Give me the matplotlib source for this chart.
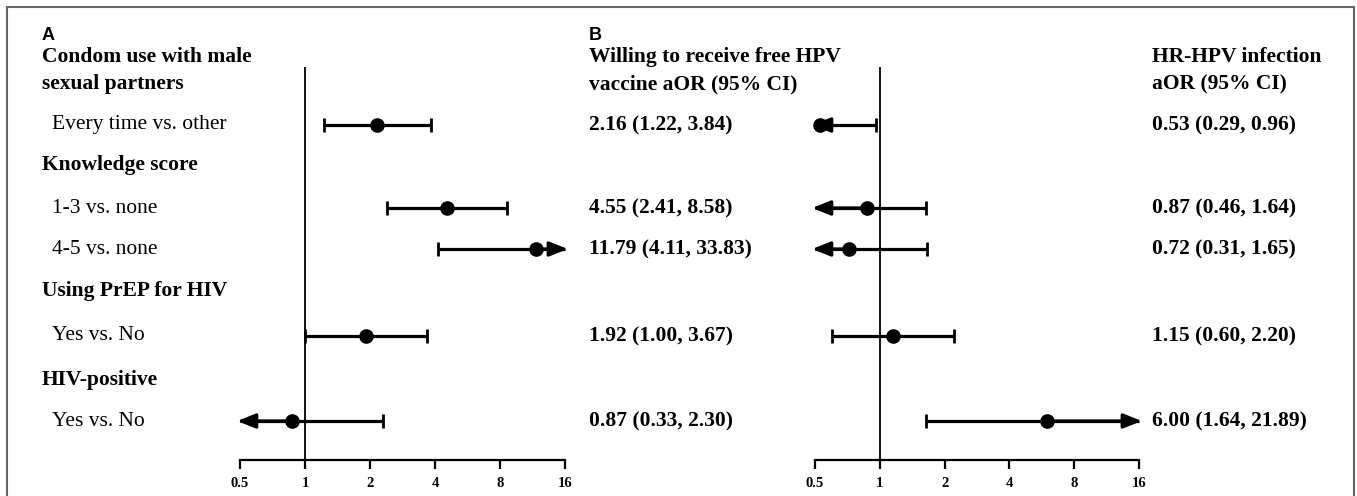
import matplotlib
matplotlib.use("Agg")
import matplotlib.pyplot as plt
from matplotlib.patches import Rectangle

# data
groups = ["Condom use with male\nsexual partners", "Knowledge score", "Using PrEP for HIV", "HIV-positive"]
labels = ["Every time vs. other", "1-3 vs. none", "4-5 vs. none", "Yes vs. No", "Yes vs. No"]

vacc_or = [2.16, 4.55, 11.79, 1.92, 0.87]
vacc_lo = [1.22, 2.41, 4.11, 1.00, 0.33]
vacc_hi = [3.84, 8.58, 33.83, 3.67, 2.30]

hpv_or = [0.53, 0.87, 0.72, 1.15, 6.00]
hpv_lo = [0.29, 0.46, 0.31, 0.60, 1.64]
hpv_hi = [0.96, 1.64, 1.65, 2.20, 21.89]

ticks = [0.5, 1, 2, 4, 8, 16]
tick_labels = ["0.5", "1", "2", "4", "8", "16"]

# layout, in pixels of the 1357x496 picture
W, H = 1357, 496
row_y = [125, 208, 249, 336, 421]
group_y = [(57, 84), 165, 291, 380]
AX_TOP, AX_BOT = 67, 460
COL1, COL2, COL3 = 42, 589, 1152

plt.rcParams['font.family'] = ['Liberation Serif', 'DejaVu Serif']
FS = 15.5

fig = plt.figure(figsize=(W / 100, H / 100), dpi=100)


def fx(x):
    return x / W


def fy(y):
    return 1 - y / H


def forest(ax, est, lo, hi):
    xmin, xmax = ticks[0], ticks[-1]
    ax.set_xscale('log', base=2)
    ax.set_xlim(xmin, xmax)
    ax.set_ylim(AX_BOT, AX_TOP)
    for s in ['top', 'right', 'left']:
        ax.spines[s].set_visible(False)
    ax.spines['bottom'].set_linewidth(1.6)
    ax.set_yticks([])
    ax.set_xticks(ticks)
    ax.set_xticklabels(tick_labels, fontweight='bold', fontsize=10.5)
    ax.xaxis.set_minor_locator(matplotlib.ticker.NullLocator())
    ax.tick_params(axis='x', direction='out', length=6.5, width=1.6, pad=6)
    ax.axvline(1, color='black', lw=1.3, zorder=1)
    head = '-|>,head_length=0.55,head_width=0.22'
    for e, l, h, y in zip(est, lo, hi, row_y):
        a = max(l, xmin)
        b = min(h, xmax)
        ax.plot([a, b], [y, y], color='black', lw=2.3, solid_capstyle='butt', zorder=2, clip_on=False)
        if l >= xmin:
            ax.plot([l], [y], marker='|', ms=10, mew=2, color='black', zorder=3)
        else:
            ax.annotate('', xy=(xmin * 0.97, y), xytext=(e, y),
                        arrowprops=dict(arrowstyle=head, mutation_scale=20, color='black', lw=2.3,
                                        shrinkA=0, shrinkB=0), annotation_clip=False)
        if h <= xmax:
            ax.plot([h], [y], marker='|', ms=10, mew=2, color='black', zorder=3)
        else:
            ax.annotate('', xy=(xmax * 1.03, y), xytext=(e, y),
                        arrowprops=dict(arrowstyle=head, mutation_scale=20, color='black', lw=2.3,
                                        shrinkA=0, shrinkB=0), annotation_clip=False)
        ax.plot([e], [y], 'o', ms=9.5, color='black', zorder=4, clip_on=False)


axA = fig.add_axes([fx(240), fy(AX_BOT), fx(565 - 240), (AX_BOT - AX_TOP) / H])
forest(axA, vacc_or, vacc_lo, vacc_hi)
axB = fig.add_axes([fx(815), fy(AX_BOT), fx(1139 - 815), (AX_BOT - AX_TOP) / H])
forest(axB, hpv_or, hpv_lo, hpv_hi)

# panel letters
fig.text(fx(COL1), fy(36), "A", family='Liberation Sans', fontweight='bold', fontsize=13, va='center')
fig.text(fx(COL2), fy(36), "B", family='Liberation Sans', fontweight='bold', fontsize=13, va='center')

# left column
head1, head2 = groups[0].split("\n")
fig.text(fx(COL1), fy(group_y[0][0]), head1, fontweight='bold', fontsize=FS, va='center')
fig.text(fx(COL1), fy(group_y[0][1]), head2, fontweight='bold', fontsize=FS, va='center')
for g, y in zip(groups[1:], group_y[1:]):
    fig.text(fx(COL1), fy(y), g, fontweight='bold', fontsize=FS, va='center')
for lab, y in zip(labels, row_y):
    fig.text(fx(COL1 + 10), fy(y), lab, fontsize=FS, va='center')

# middle column: vaccine willingness
fig.text(fx(COL2), fy(57), "Willing to receive free HPV", fontweight='bold', fontsize=FS, va='center')
fig.text(fx(COL2), fy(84), "vaccine aOR (95% CI)", fontweight='bold', fontsize=FS, va='center')
for e, l, h, y in zip(vacc_or, vacc_lo, vacc_hi, row_y):
    fig.text(fx(COL2), fy(y), f"{e:.2f} ({l:.2f}, {h:.2f})", fontweight='bold', fontsize=FS, va='center')

# right column: HR-HPV infection
fig.text(fx(COL3), fy(57), "HR-HPV infection", fontweight='bold', fontsize=FS, va='center')
fig.text(fx(COL3), fy(84), "aOR (95% CI)", fontweight='bold', fontsize=FS, va='center')
for e, l, h, y in zip(hpv_or, hpv_lo, hpv_hi, row_y):
    fig.text(fx(COL3), fy(y), f"{e:.2f} ({l:.2f}, {h:.2f})", fontweight='bold', fontsize=FS, va='center')

# grey frame around the figure
fig.patches.append(Rectangle((fx(7), -0.05), fx(1354 - 7), fy(7) + 0.05, transform=fig.transFigure,
                             fill=False, edgecolor='#666666', lw=1.5))

fig.savefig("out.png", dpi=100)
